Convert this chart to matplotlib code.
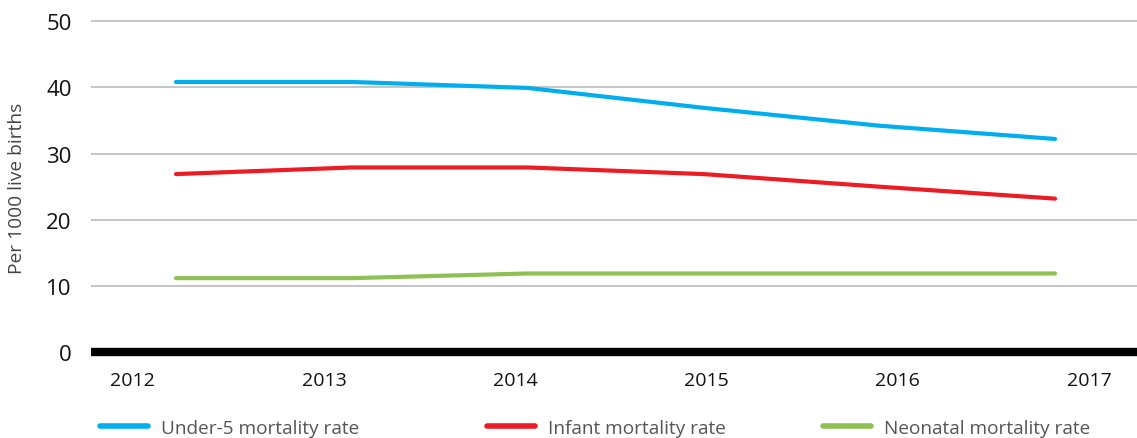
import matplotlib
matplotlib.use("Agg")
import matplotlib.pyplot as plt
from matplotlib.lines import Line2D

# ---- data ----
years = ["2012", "2013", "2014", "2015", "2016", "2017"]
under5 = [40.8, 40.8, 39.9, 36.9, 34.2, 32.2]
infant = [26.9, 27.9, 27.9, 26.9, 25.0, 23.2]
neonatal = [11.2, 11.2, 11.9, 11.9, 11.9, 11.9]
series_names = ["Under-5 mortality rate", "Infant mortality rate", "Neonatal mortality rate"]
yticks = [0, 10, 20, 30, 40, 50]

colors = ["#00AEEF", "#ED1C24", "#8DC152"]
FONT = ["Open Sans", "DejaVu Sans"]
plt.rcParams["font.family"] = FONT

W, H = 1137, 439
fig = plt.figure(figsize=(W / 100, H / 100), dpi=100)
ax = fig.add_axes([91 / W, (H - 360) / H, (W - 91) / W, 340 / H])

xs = list(range(len(years)))
for vals, c in zip([under5, infant, neonatal], colors):
    ax.plot(xs, vals, color=c, lw=3.0, solid_capstyle="round", solid_joinstyle="round", zorder=3)

# axes limits (data points sit between the category labels as in the original)
ax.set_xlim(-0.4835, 5.4664)
ax.set_ylim(-1.0, 50.3)

# gridlines
for yv in yticks[1:]:
    ax.axhline(yv, color="#BBBBBB", lw=1.2, zorder=1)
ax.axhline(0, color="black", lw=6, zorder=2, solid_capstyle="butt")

ax.set_yticks(yticks)
ax.set_yticklabels([str(v) for v in yticks], fontsize=16, color="#111111")
label_start, label_step = -0.245, 1.0876
ax.set_xticks([label_start + i * label_step for i in range(len(years))])
ax.set_xticklabels(years, fontsize=14, color="#111111")
ax.tick_params(axis="both", length=0)
ax.tick_params(axis="y", pad=14)
ax.tick_params(axis="x", pad=9)
for s in ax.spines.values():
    s.set_visible(False)

fig.text(17.5 / W, 1 - 188.5 / H, "Per 1000 live births", rotation=90, ha="center", va="center",
         fontsize=13.8, color="#444444")

# legend entries placed individually
leg_x = [100, 487, 823]
for name, c, lx in zip(series_names, colors, leg_x):
    h = Line2D([], [], color=c, lw=4, solid_capstyle="round")
    lg = fig.legend([h], [name], loc="center left", bbox_to_anchor=(lx / W, 1 - 429 / H),
                    frameon=False, fontsize=13.7, handlelength=2.5, handletextpad=0.68,
                    borderpad=0, borderaxespad=0)
    for t in lg.get_texts():
        t.set_color("#555555")

fig.savefig("out.png", dpi=100)
